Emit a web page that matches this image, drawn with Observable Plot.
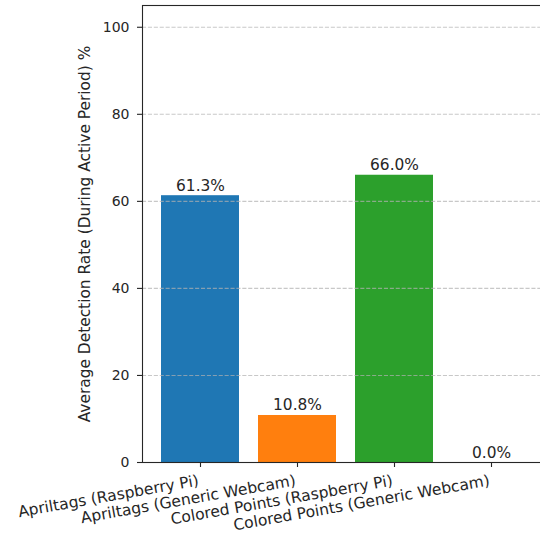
<!DOCTYPE html>
<html>
<head>
<meta charset="utf-8">
<script src="https://cdn.jsdelivr.net/npm/d3@7"></script>
<script src="https://cdn.jsdelivr.net/npm/@observablehq/plot@0.6"></script>
<style>
  html, body { margin: 0; padding: 0; background: white; }
  #wrap { width: 540px; height: 537px; overflow: hidden; }
</style>
</head>
<body>
<div id="wrap"></div>
<script>
const categories = [
  "Apriltags (Raspberry Pi)",
  "Apriltags (Generic Webcam)",
  "Colored Points (Raspberry Pi)",
  "Colored Points (Generic Webcam)"
];
const values = [61.3, 10.8, 66.0, 0.0];
const valueLabels = ["61.3%", "10.8%", "66.0%", "0.0%"];
const colors = ["#1f77b4", "#ff7f0e", "#2ca02c", "#d62728"];
const yTicks = [0, 20, 40, 60, 80, 100];
const yLabel = "Average Detection Rate (During Active Period) %";

const data = categories.map((c, i) => ({category: c, value: values[i], color: colors[i], label: valueLabels[i]}));

const ink = "#262626";
const big = 15.4;

const chart = Plot.plot({
  width: 548,
  height: 537,
  marginLeft: 142,
  marginRight: 0,
  marginTop: 5,
  marginBottom: 75,
  style: {fontFamily: "DejaVu Sans", fontSize: "14px", maxWidth: "none", background: "white", color: ink},
  x: {domain: categories, paddingInner: 0.2, paddingOuter: 0.19},
  y: {domain: [0, 105]},
  marks: [
    Plot.barY(data, {x: "category", y: "value", fill: "color"}),
    Plot.ruleY(yTicks.filter(t => t > 0), {stroke: "#b0b0b0", strokeOpacity: 0.7, strokeWidth: 1.1, strokeDasharray: "4.1,1.8"}),
    Plot.frame({stroke: ink, strokeWidth: 1.1}),
    Plot.axisY({ticks: yTicks, tickSize: 5, tickPadding: 8, label: null, stroke: ink, fill: ink, strokeWidth: 1.1, fontSize: 14}),
    Plot.axisX({tickSize: 5, tickFormat: () => "", label: null, stroke: ink, strokeWidth: 1.1}),
    Plot.text(categories, {x: d => d, text: d => d, frameAnchor: "bottom", rotate: -10, textAnchor: "end", lineAnchor: "top", dy: 12, dx: -3, fill: ink, fontSize: 15.5}),
    Plot.text(data, {x: "category", y: "value", text: "label", lineAnchor: "bottom", dy: -5, fill: ink, fontSize: big}),
    Plot.text([yLabel], {text: d => d, frameAnchor: "left", dx: -57, rotate: -90, textAnchor: "middle", lineAnchor: "middle", fill: ink, fontSize: big})
  ]
});
document.getElementById("wrap").appendChild(chart);
</script>
</body>
</html>
